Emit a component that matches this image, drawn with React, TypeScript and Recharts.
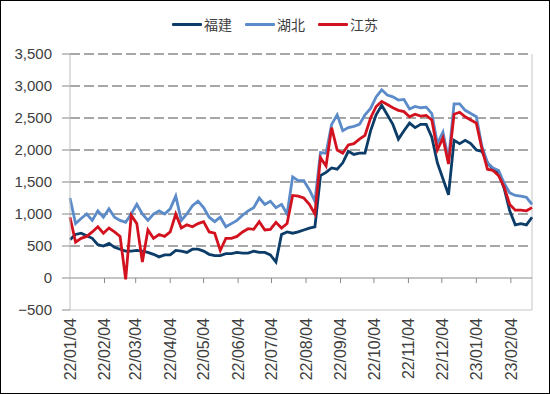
import { LineChart, Line, XAxis, YAxis, CartesianGrid, ReferenceLine } from 'recharts';

// days since 2022-01-04
const days = [
  0, 5, 10, 15, 20, 25, 30, 35, 40, 45, 50, 55, 60, 65, 70, 75, 80, 85, 90, 95,
  100, 105, 110, 115, 120, 125, 130, 135, 140, 145, 150, 155, 160, 165, 170, 175, 180, 185, 190, 195,
  200, 205, 210, 215, 220, 225, 230, 235, 240, 245, 250, 255, 260, 265, 270, 275, 280, 285, 290, 295,
  300, 305, 310, 315, 320, 325, 330, 335, 340, 345, 350, 355, 360, 365, 370, 375, 380, 385, 390, 395,
  400, 405, 410, 415,
];

const fujian = [
  600, 680, 700, 660, 620, 520, 500, 540, 480, 450, 420, 420, 430, 420, 400, 370, 330, 360, 360, 430,
  420, 400, 450, 450, 420, 370, 350, 350, 380, 380, 400, 390, 390, 420, 400, 400, 360, 250, 680, 720,
  700, 720, 750, 780, 800, 1600, 1650, 1720, 1700, 1800, 1980, 1930, 1950, 1950, 2300, 2550, 2700, 2550, 2400, 2170,
  2300, 2420, 2350, 2400, 2400, 2200, 1800, 1550, 1300, 2150, 2100, 2150, 2100, 2000, 1980, 1800, 1700, 1640, 1400, 1050,
  830, 850, 830, 950,
];

const hubei = [
  1250, 850, 930, 1000, 900, 1050, 950, 1080, 950, 900, 870, 1000, 1150, 1000, 900, 1000, 1050, 1000, 1080, 1280,
  900, 1000, 1130, 1200, 1100, 950, 880, 950, 800, 850, 900, 980, 1050, 1100, 1250, 1150, 1200, 1100, 1150, 1000,
  1580, 1520, 1520, 1380, 1200, 1960, 1950, 2400, 2550, 2300, 2350, 2370, 2400, 2550, 2650, 2830, 2940, 2860, 2830, 2780,
  2790, 2640, 2680, 2660, 2670, 2570, 2100, 2280, 1850, 2720, 2720, 2620, 2570, 2520, 2060, 1800, 1720, 1680, 1480, 1330,
  1290, 1280, 1260, 1150,
];

const jiangsu = [
  950, 560, 620, 650, 720, 800, 700, 780, 720, 650, -20, 980, 850, 250, 750, 620, 680, 650, 720, 1000,
  780, 830, 800, 850, 880, 720, 700, 430, 620, 620, 650, 720, 770, 760, 880, 750, 760, 870, 780, 850,
  1290, 1280, 1250, 1150, 1000, 1880, 1750, 2350, 2000, 1950, 2080, 2100, 2170, 2230, 2500, 2680, 2760, 2710, 2660, 2620,
  2600, 2520, 2560, 2530, 2540, 2470, 2000, 2190, 1780, 2560, 2590, 2520, 2470, 2420, 2020, 1700, 1680, 1600, 1420, 1150,
  1060, 1060, 1050, 1100,
];

const tickDays = [0, 31, 59, 90, 120, 151, 181, 212, 243, 273, 304, 334, 365, 396];
const tickLabels = [
  '22/01/04', '22/02/04', '22/03/04', '22/04/04', '22/05/04', '22/06/04', '22/07/04',
  '22/08/04', '22/09/04', '22/10/04', '22/11/04', '22/12/04', '23/01/04', '23/02/04',
];
const yTicks = [-500, 0, 500, 1000, 1500, 2000, 2500, 3000, 3500];

const series = [
  { key: 'fujian', name: '福建', color: '#0c3c68' },
  { key: 'hubei', name: '湖北', color: '#5b8bc8' },
  { key: 'jiangsu', name: '江苏', color: '#d3121f' },
];

const data = days.map((d, i) => ({ day: d, fujian: fujian[i], hubei: hubei[i], jiangsu: jiangsu[i] }));

const FONT = '"Liberation Sans", Arial, sans-serif';
const TEXT = '#404040';

const fmtY = (v: number) => (v < 0 ? '\u2212' : '') + Math.abs(v).toLocaleString('en-US');

function DateTick({ x, y, payload }: any) {
  const label = tickLabels[tickDays.indexOf(payload.value)];
  return (
    <text x={x} y={y} transform={`rotate(-90, ${x}, ${y})`} textAnchor="end" dy="0.36em"
      fontSize={16} fill={TEXT} fontFamily={FONT}>
      {label}
    </text>
  );
}

export default function App() {
  return (
    <div style={{ position: 'absolute', left: 0, top: 0, width: 550, height: 394, background: '#fff' }}>
      {/* legend */}
      <div style={{ position: 'absolute', top: 14, left: 0, width: 550, display: 'flex', justifyContent: 'center', gap: 13, fontFamily: '"Noto Sans CJK SC", sans-serif', fontSize: 14, color: TEXT }}>
        {series.map(s => (
          <div key={s.key} style={{ display: 'flex', alignItems: 'center', gap: 2 }}>
            <div style={{ width: 30, height: 3, background: s.color, borderRadius: 1 }} />
            <span>{s.name}</span>
          </div>
        ))}
      </div>

      <LineChart width={550} height={394} data={data} margin={{ top: 54, right: 18, bottom: 0, left: 0 }}>
        <CartesianGrid vertical={false} horizontalValues={[500, 1000, 1500, 2000, 2500, 3000, 3500]}
          stroke="#8a8a8a" strokeWidth={1.4} strokeDasharray="10 4" />
        <XAxis dataKey="day" type="number" domain={[0, 415]} ticks={tickDays} interval={0}
          height={84} tickLine={false} tickSize={0} tickMargin={8}
          axisLine={{ stroke: '#c6c6c6' }} tick={<DateTick />} />
        <YAxis domain={[-500, 3500]} ticks={yTicks} interval={0} width={70}
          axisLine={{ stroke: '#bfbfbf' }} tickLine={{ stroke: '#8a8a8a' }} tickSize={8} tickMargin={10}
          tick={{ fontSize: 15, fill: TEXT, fontFamily: FONT }} tickFormatter={fmtY} />
        <ReferenceLine x={415} stroke="#c6c6c6" />
        <ReferenceLine y={0} stroke="#8a8a8a" strokeWidth={1.2} />
        {tickDays.slice(1).map(d => (
          <ReferenceLine key={d} segment={[{ x: d, y: 0 }, { x: d, y: -80 }]} stroke="#8a8a8a" />
        ))}
        {series.map(s => (
          <Line key={s.key} dataKey={s.key} name={s.name} type="linear" stroke={s.color}
            strokeWidth={2.8} dot={false} isAnimationActive={false} />
        ))}
      </LineChart>

      <div style={{ position: 'absolute', inset: 0, border: '1.5px solid #000', pointerEvents: 'none' }} />
    </div>
  );
}
